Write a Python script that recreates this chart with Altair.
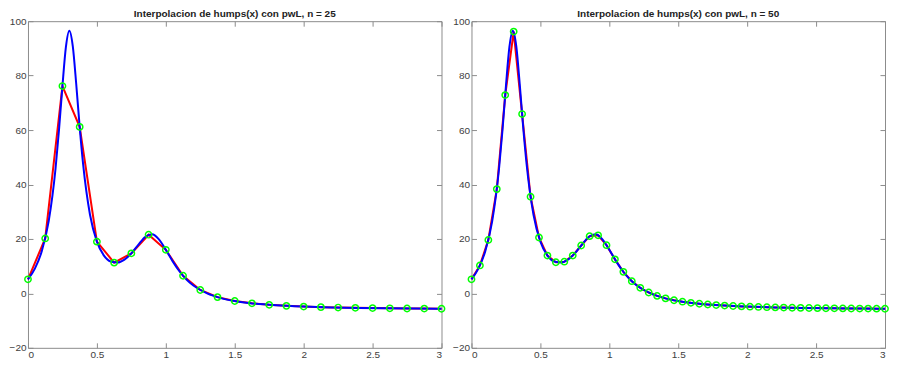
import altair as alt
import pandas as pd

# Smooth humps(x) curve values
x_fine = [0, 0.05, 0.1, 0.15, 0.2, 0.225, 0.25, 0.275, 0.3, 0.325, 0.35, 0.375, 0.4,
          0.45, 0.5, 0.55, 0.6, 0.65, 0.7, 0.75, 0.8, 0.85, 0.9, 0.95, 1.0, 1.05, 1.1,
          1.15, 1.2, 1.3, 1.4, 1.5, 1.6, 1.8, 2.0, 2.2, 2.4, 2.6, 2.8, 3.0]
y_fine = [5.176, 9.105, 15.471, 26.429, 45.887, 60.018, 76.162, 90.440, 96.5, 90.816,
          76.920, 61.168, 47.448, 28.893, 19.0, 13.947, 11.692, 11.303, 12.382, 14.706,
          17.846, 20.729, 21.703, 19.841, 16.0, 11.747, 8.038, 5.121, 2.912, -0.010,
          -1.732, -2.811, -3.525, -4.381, -4.855, -5.146, -5.337, -5.470, -5.566, -5.638]

# n = 25 interpolation nodes
x25 = [0, 0.125, 0.25, 0.375, 0.5, 0.625, 0.75, 0.875, 1.0, 1.125, 1.25, 1.375, 1.5,
       1.625, 1.75, 1.875, 2.0, 2.125, 2.25, 2.375, 2.5, 2.625, 2.75, 2.875, 3.0]
y25 = [5.176, 20.176, 76.162, 61.168, 19.0, 11.297, 14.706, 21.551, 16.0, 6.482, 1.250,
       -1.377, -2.811, -3.666, -4.215, -4.589, -4.855, -5.052, -5.201, -5.317, -5.409,
       -5.484, -5.545, -5.596, -5.638]

# n = 50 interpolation nodes
x50 = [0.0, 0.0612, 0.1224, 0.1837, 0.2449, 0.3061, 0.3673, 0.4286, 0.4898, 0.5510,
       0.6122, 0.6735, 0.7347, 0.7959, 0.8571, 0.9184, 0.9796, 1.0408, 1.1020, 1.1633,
       1.2245, 1.2857, 1.3469, 1.4082, 1.4694, 1.5306, 1.5918, 1.6531, 1.7143, 1.7755,
       1.8367, 1.8980, 1.9592, 2.0204, 2.0816, 2.1429, 2.2041, 2.2653, 2.3265, 2.3878,
       2.4490, 2.5102, 2.5714, 2.6327, 2.6939, 2.7551, 2.8163, 2.8776, 2.9388, 3.0]
y50 = [5.176, 10.267, 19.633, 38.303, 72.842, 96.173, 65.884, 35.506, 20.530, 13.877,
       11.446, 11.641, 13.879, 17.579, 21.023, 21.340, 17.701, 12.504, 7.904, 4.472,
       2.039, 0.316, -0.925, -1.839, -2.528, -3.059, -3.476, -3.810, -4.080, -4.303,
       -4.488, -4.645, -4.777, -4.891, -4.990, -5.075, -5.150, -5.217, -5.275, -5.327,
       -5.374, -5.416, -5.454, -5.488, -5.519, -5.547, -5.573, -5.597, -5.618, -5.638]

x_ticks = [0, 0.5, 1, 1.5, 2, 2.5, 3]
y_ticks = [-20, 0, 20, 40, 60, 80, 100]
titles = ["Interpolacion de humps(x) con pwL, n = 25",
          "Interpolacion de humps(x) con pwL, n = 50"]

FONT = "Liberation Sans"
H = 327


def panel(xs, ys, title, W):
    pts = pd.DataFrame({"x": xs, "y": ys})
    fine = pd.DataFrame({"x": x_fine, "y": y_fine})
    xs_ = alt.Scale(domain=[0, 3], nice=False, zero=False)
    ys_ = alt.Scale(domain=[-20, 100], nice=False, zero=False)
    x_axis = alt.X("x:Q", scale=xs_, title=None,
                   axis=alt.Axis(orient="bottom", values=x_ticks, format="~g"))
    y_axis = alt.Y("y:Q", scale=ys_, title=None,
                   axis=alt.Axis(orient="left", values=y_ticks, format="d"))
    x_na = alt.X("x:Q", scale=xs_, title=None, axis=None)
    y_na = alt.Y("y:Q", scale=ys_, title=None, axis=None)

    red = alt.Chart(pts).mark_line(color="#ff0000", strokeWidth=2).encode(x=x_axis, y=y_axis)
    blue = alt.Chart(fine).mark_line(color="#0000ff", strokeWidth=2,
                                     interpolate="monotone").encode(x=x_na, y=y_na)
    green = alt.Chart(pts).mark_point(shape="circle", filled=False, color="#00ff00",
                                      size=40, strokeWidth=1.5, opacity=1).encode(x=x_na, y=y_na)
    mirror = alt.Chart(pts).mark_point(opacity=0).encode(
        x=alt.X("x:Q", scale=xs_, title=None,
                axis=alt.Axis(orient="top", values=x_ticks, labels=False)),
        y=alt.Y("y:Q", scale=ys_, title=None,
                axis=alt.Axis(orient="right", values=y_ticks, labels=False)),
    )
    return (
        alt.layer(red, blue, green, mirror)
        .resolve_axis(x="independent", y="independent")
        .properties(width=W, height=H,
                    title=alt.TitleParams(title, fontSize=10, fontWeight="bold",
                                          font=FONT, color="#222222", offset=-3))
    )


chart = (
    alt.hconcat(panel(x25, y25, titles[0], 414), panel(x50, y50, titles[1], 414), spacing=3)
    .properties(padding=0)
    .configure_view(stroke="#8c8c8c", strokeWidth=1)
    .configure_axis(domain=False, grid=False, labelFont=FONT, labelFontSize=10,
                    labelColor="#404040", tickColor="#8c8c8c", tickSize=5,
                    offset=-5, labelPadding=2)
)

chart.save("out.html", embed_options={"renderer": "svg", "actions": False})
